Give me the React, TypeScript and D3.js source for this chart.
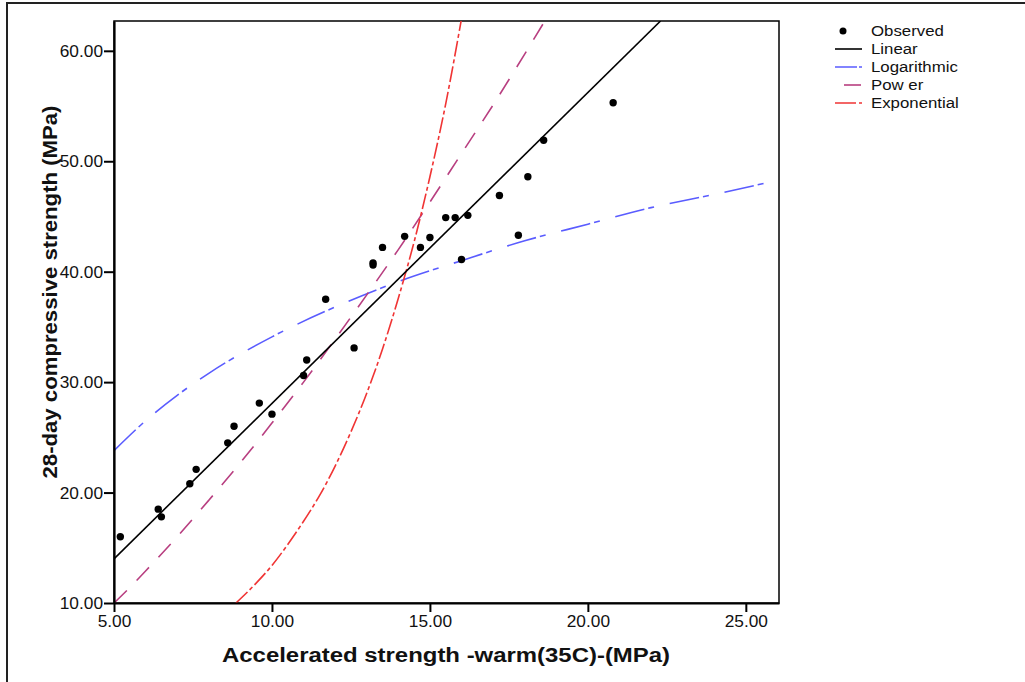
import React, { useEffect, useRef } from "react";
import * as d3 from "d3";

// Observed points (accelerated strength vs 28-day strength)
const accelerated = [
  5.2, 6.4, 6.5, 7.4, 7.6, 8.6, 8.8, 9.6, 10.0, 11.0, 11.1, 11.7, 12.6, 13.2,
  13.2, 13.5, 14.2, 14.7, 15.0, 15.5, 15.8, 16.0, 16.2, 17.2, 17.8, 18.1, 18.6,
  20.8,
];
const compressive = [
  16.0, 18.5, 17.8, 20.8, 22.1, 24.5, 26.0, 28.1, 27.1, 30.6, 32.0, 37.5, 33.1,
  40.8, 40.6, 42.2, 43.2, 42.2, 43.1, 44.9, 44.9, 41.1, 45.1, 46.9, 43.3, 48.6,
  51.9, 55.3,
];

// Fitted curves
const linearX = [5, 22.3];
const linearY = [14.0, 62.7];

const logX = [5, 6, 7, 8, 10, 12, 14, 16, 18, 20, 22, 24, 26.05];
const logY = [23.8, 26.5, 28.8, 30.8, 34.1, 36.8, 39.1, 41.0, 42.8, 44.3, 45.8, 47.0, 48.3];

const powerX = [5, 5.5, 6, 7, 8, 9, 10, 11, 12, 13, 14, 15, 16, 17, 18, 18.7];
const powerY = [10.0, 11.4, 12.9, 16.0, 19.3, 22.7, 26.3, 30.0, 33.9, 37.9, 42.0, 46.3, 50.7, 55.1, 59.7, 63.0];

const expX = [8.86, 9.5, 10, 10.5, 11, 11.5, 12, 12.5, 13, 13.5, 14, 14.5, 15, 15.5, 16];
const expY = [10.0, 11.8, 13.4, 15.3, 17.4, 19.7, 22.4, 25.5, 29.0, 33.0, 37.6, 42.7, 48.6, 55.2, 62.9];

const xTicks = [5, 10, 15, 20, 25];
const yTicks = [10, 20, 30, 40, 50, 60];

const legendLabels = ["Observed", "Linear", "Logarithmic", "Pow er", "Exponential"];

const FONT = "'Liberation Sans', Arial, sans-serif";

function stretch(sel: any, k: number) {
  sel.each(function (this: any) {
    const len = this.getComputedTextLength();
    d3.select(this)
      .attr("textLength", len * k)
      .attr("lengthAdjust", "spacingAndGlyphs");
  });
}

export default function App() {
  const svgRef = useRef<SVGSVGElement>(null);

  useEffect(() => {
    const svg = d3.select(svgRef.current);
    svg.selectAll("*").remove();

    const left = 114, top = 21, right = 779, bottom = 603;

    const x = d3.scaleLinear().domain([5, 26.05]).range([left, right]);
    const y = d3.scaleLinear().domain([10, 62.7]).range([bottom, top]);

    // outer frame
    svg
      .append("rect")
      .attr("x", 7)
      .attr("y", 3)
      .attr("width", 1040)
      .attr("height", 700)
      .attr("fill", "none")
      .attr("stroke", "#222")
      .attr("stroke-width", 2);

    svg
      .append("defs")
      .append("clipPath")
      .attr("id", "plotClip")
      .append("rect")
      .attr("x", left)
      .attr("y", top)
      .attr("width", right - left)
      .attr("height", bottom - top);

    // plot frame
    svg
      .append("rect")
      .attr("x", left)
      .attr("y", top)
      .attr("width", right - left)
      .attr("height", bottom - top)
      .attr("fill", "none")
      .attr("stroke", "#000")
      .attr("stroke-width", 1.5);

    const curves = svg.append("g").attr("clip-path", "url(#plotClip)");

    const line = d3
      .line<[number, number]>()
      .x((d) => x(d[0]))
      .y((d) => y(d[1]))
      .curve(d3.curveMonotoneX);

    const series = [
      { xs: logX, ys: logY, color: "#5a5cff", dash: "30,4,6,16" },
      { xs: powerX, ys: powerY, color: "#b83f80", dash: "18,14" },
      { xs: expX, ys: expY, color: "#f03434", dash: "16,3,4,3" },
      { xs: linearX, ys: linearY, color: "#000", dash: null },
    ];

    series.forEach((s) => {
      curves
        .append("path")
        .datum(s.xs.map((v, i) => [v, s.ys[i]] as [number, number]))
        .attr("fill", "none")
        .attr("stroke", s.color)
        .attr("stroke-width", 1.6)
        .attr("stroke-dasharray", s.dash)
        .attr("d", line);
    });

    // observed points
    svg
      .append("g")
      .selectAll("circle")
      .data(accelerated)
      .enter()
      .append("circle")
      .attr("cx", (d) => x(d))
      .attr("cy", (d, i) => y(compressive[i]))
      .attr("r", 3.7)
      .attr("fill", "#000");

    // axes
    const yAxis = d3
      .axisLeft(y)
      .tickValues(yTicks)
      .tickSize(10)
      .tickSizeOuter(0)
      .tickPadding(1)
      .tickFormat(d3.format(".2f"));
    const yg = svg.append("g").attr("transform", `translate(${left},0)`).call(yAxis);

    const xAxis = d3
      .axisBottom(x)
      .tickValues(xTicks)
      .tickSize(9)
      .tickSizeOuter(0)
      .tickPadding(4)
      .tickFormat(d3.format(".2f"));
    const xg = svg.append("g").attr("transform", `translate(0,${bottom})`).call(xAxis);

    [yg, xg].forEach((g) => {
      g.select(".domain").attr("stroke-width", 2.2);
      g.selectAll(".tick line").attr("stroke-width", 2);
      g.selectAll(".tick text")
        .attr("fill", "#111")
        .style("font-family", FONT)
        .style("font-size", "16px");
      stretch(g.selectAll(".tick text"), 1.08);
    });
    yg.selectAll(".tick text").attr("dy", "0.34em");

    // axis titles
    svg
      .append("text")
      .attr("x", 446)
      .attr("y", 662)
      .attr("text-anchor", "middle")
      .style("font-family", FONT)
      .style("font-size", "20px")
      .style("font-weight", "bold")
      .attr("fill", "#111")
      .attr("textLength", 448)
      .attr("lengthAdjust", "spacingAndGlyphs")
      .text("Accelerated strength -warm(35C)-(MPa)");

    svg
      .append("text")
      .attr("transform", "translate(57,292) rotate(-90)")
      .attr("text-anchor", "middle")
      .style("font-family", "'Liberation Sans Narrow', " + FONT)
      .style("font-size", "20px")
      .style("font-weight", "bold")
      .attr("fill", "#111")
      .attr("textLength", 373)
      .attr("lengthAdjust", "spacingAndGlyphs")
      .text("28-day compressive strength (MPa)");

    // legend
    const legend = svg.append("g");
    const rowY = (i: number) => 31 + i * 18;

    legend
      .append("circle")
      .attr("cx", 843)
      .attr("cy", rowY(0))
      .attr("r", 3.5)
      .attr("fill", "#000");

    const legendLines = [
      { color: "#000", x1: 835, x2: 862, dash: null },
      { color: "#5a5cff", x1: 835, x2: 864, dash: "22,2,3,2" },
      { color: "#b83f80", x1: 844, x2: 861, dash: null },
      { color: "#f03434", x1: 835, x2: 864, dash: "21,3,3,3" },
    ];
    legendLines.forEach((l, i) => {
      legend
        .append("line")
        .attr("x1", l.x1)
        .attr("x2", l.x2)
        .attr("y1", rowY(i + 1))
        .attr("y2", rowY(i + 1))
        .attr("stroke", l.color)
        .attr("stroke-width", 1.6)
        .attr("stroke-dasharray", l.dash);
    });

    const lt = legend
      .selectAll("text")
      .data(legendLabels)
      .enter()
      .append("text")
      .attr("x", 871)
      .attr("y", (d, i) => rowY(i) + 5)
      .style("font-family", FONT)
      .style("font-size", "14px")
      .attr("fill", "#111")
      .text((d) => d);
    stretch(lt, 1.2);
  }, []);

  return (
    <svg
      ref={svgRef}
      width={1025}
      height={682}
      style={{ position: "absolute", left: 0, top: 0, background: "#fff" }}
    ></svg>
  );
}
